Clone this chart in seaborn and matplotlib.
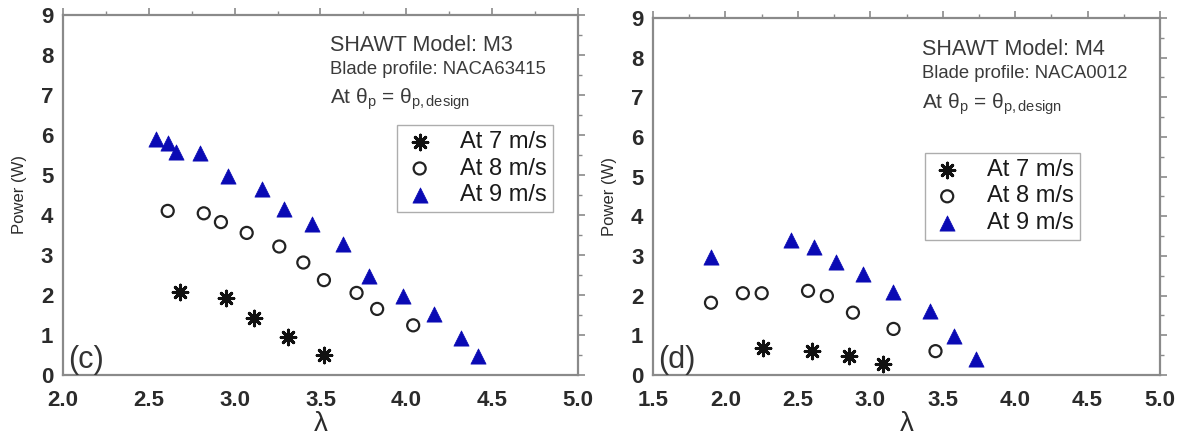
import numpy as np
import pandas as pd
import matplotlib
matplotlib.use("Agg")
import matplotlib.pyplot as plt
import seaborn as sns
from matplotlib.ticker import MultipleLocator

# ---- data: tip speed ratio (lambda) vs power (W) ----
# Model M3 (NACA63415)
m3_lam_7 = [2.68, 2.95, 3.11, 3.31, 3.52]
m3_pow_7 = [2.07, 1.93, 1.42, 0.95, 0.50]
m3_lam_8 = [2.61, 2.82, 2.92, 3.07, 3.26, 3.40, 3.52, 3.71, 3.83, 4.04]
m3_pow_8 = [4.10, 4.04, 3.82, 3.55, 3.21, 2.81, 2.37, 2.05, 1.65, 1.24]
m3_lam_9 = [2.54, 2.61, 2.66, 2.80, 2.96, 3.16, 3.29, 3.45, 3.63, 3.78, 3.98, 4.16, 4.32, 4.42]
m3_pow_9 = [5.89, 5.80, 5.58, 5.54, 4.98, 4.65, 4.16, 3.77, 3.28, 2.48, 1.98, 1.52, 0.93, 0.48]

# Model M4 (NACA0012)
m4_lam_7 = [2.26, 2.60, 2.85, 3.09]
m4_pow_7 = [0.69, 0.61, 0.47, 0.27]
m4_lam_8 = [1.90, 2.12, 2.25, 2.57, 2.70, 2.88, 3.16, 3.45]
m4_pow_8 = [1.82, 2.06, 2.06, 2.12, 1.99, 1.57, 1.16, 0.60]
m4_lam_9 = [1.90, 2.45, 2.61, 2.76, 2.95, 3.16, 3.41, 3.58, 3.73]
m4_pow_9 = [2.98, 3.40, 3.22, 2.84, 2.54, 2.08, 1.62, 0.97, 0.41]

speed_labels = ["At 7 m/s", "At 8 m/s", "At 9 m/s"]
panel_tags = ["(c)", "(d)"]
model_names = ["SHAWT Model: M3", "SHAWT Model: M4"]
profiles = ["Blade profile: NACA63415", "Blade profile: NACA0012"]
x_ticks = [[2.0, 2.5, 3.0, 3.5, 4.0, 4.5, 5.0],
           [1.5, 2.0, 2.5, 3.0, 3.5, 4.0, 4.5, 5.0]]
y_ticks = list(range(0, 10))


def frame(lams, pows):
    rows = []
    for lab, lx, py in zip(speed_labels, lams, pows):
        for a, b in zip(lx, py):
            rows.append({"lam": a, "power": b, "speed": lab})
    return pd.DataFrame(rows)


df_m3 = frame([m3_lam_7, m3_lam_8, m3_lam_9], [m3_pow_7, m3_pow_8, m3_pow_9])
df_m4 = frame([m4_lam_7, m4_lam_8, m4_lam_9], [m4_pow_7, m4_pow_8, m4_pow_9])

sns.set_theme(style="white")
plt.rcParams["font.family"] = ["Liberation Sans", "DejaVu Sans"]
plt.rcParams["mathtext.fontset"] = "custom"
plt.rcParams["mathtext.rm"] = "Liberation Sans"
plt.rcParams["mathtext.it"] = "Liberation Sans"

TXT = "#2b2b2b"
SPINE = "#8a8a8a"
BLUE = "#0a0ab4"

fig = plt.figure(figsize=(11.82, 4.37), dpi=100)
ax_l = fig.add_axes([0.0533, 0.142, 0.4357, 0.824])
ax_r = fig.add_axes([0.5525, 0.142, 0.4289, 0.817])

# marker styles per wind speed
styles = {
    "At 7 m/s": dict(marker=(8, 2, 0), s=110, color="#111111", linewidth=2.2),
    "At 8 m/s": dict(marker="o", s=75, facecolor="none", edgecolor="#222222", linewidth=1.6),
    "At 9 m/s": dict(marker="^", s=120, color=BLUE, edgecolor=BLUE, linewidth=0.5),
}

configs = [
    (ax_l, df_m3, (2.0, 5.0), (0.518, 0.945), (0.649, 0.694)),
    (ax_r, df_m4, (1.5, 5.0), (0.530, 0.940), (0.536, 0.622)),
]

for i, (ax, df, xlim, txt_pos, leg_pos) in enumerate(configs):
    handles = []
    for lab in speed_labels:
        sub = df[df["speed"] == lab]
        sns.scatterplot(data=sub, x="lam", y="power", ax=ax, legend=False, **styles[lab])
        handles.append(ax.collections[-1])

    ax.set_xlim(*xlim)
    ax.set_ylim(0, 9)
    ax.set_xticks(x_ticks[i])
    ax.set_yticks(y_ticks)
    ax.xaxis.set_minor_locator(MultipleLocator(0.25))
    ax.yaxis.set_minor_locator(MultipleLocator(0.5))
    ax.set_xticklabels([f"{v:.1f}" for v in x_ticks[i]], fontweight="bold", color=TXT)
    ax.set_yticklabels([str(v) for v in y_ticks], fontweight="bold", color=TXT)
    ax.tick_params(axis="both", which="major", labelsize=16, length=5, width=1.2,
                   color=SPINE, direction="out", top=True, right=True)
    ax.tick_params(axis="x", which="major", pad=6)
    ax.tick_params(axis="y", which="major", pad=2)
    ax.tick_params(axis="both", which="minor", length=3, width=1.0, color=SPINE,
                   direction="out", top=True, right=True)
    for sp in ax.spines.values():
        sp.set_color(SPINE)
        sp.set_linewidth(1.6)

    ax.set_xlabel("λ", fontsize=20, color=TXT, labelpad=0)
    ax.set_ylabel("Power (W)", fontsize=12, color=TXT, labelpad=10)

    tx, ty = txt_pos
    ax.text(tx, ty, model_names[i], transform=ax.transAxes, fontsize=15.5,
            color="#3a3a3a", va="top", ha="left")
    ax.text(tx, ty - 0.072, profiles[i], transform=ax.transAxes, fontsize=13.3,
            color="#3a3a3a", va="top", ha="left")
    ax.text(tx, ty - 0.145, r"At $\theta_{\mathrm{p}}$ = $\theta_{\mathrm{p,design}}$",
            transform=ax.transAxes, fontsize=15, color="#3a3a3a", va="top", ha="left")

    ax.text(0.01, 0.0, panel_tags[i], transform=ax.transAxes, fontsize=22,
            color="#333333", va="bottom", ha="left")

    leg = ax.legend(handles, speed_labels, loc="upper left", bbox_to_anchor=leg_pos,
                    fontsize=17, frameon=True, fancybox=False, borderpad=0.25,
                    labelspacing=0.2, handletextpad=1.0, handlelength=1.4,
                    borderaxespad=0)
    leg.get_frame().set_edgecolor("#999999")
    leg.get_frame().set_linewidth(1.0)
    for t in leg.get_texts():
        t.set_color("#1a1a1a")

fig.savefig("out.png", dpi=100)
